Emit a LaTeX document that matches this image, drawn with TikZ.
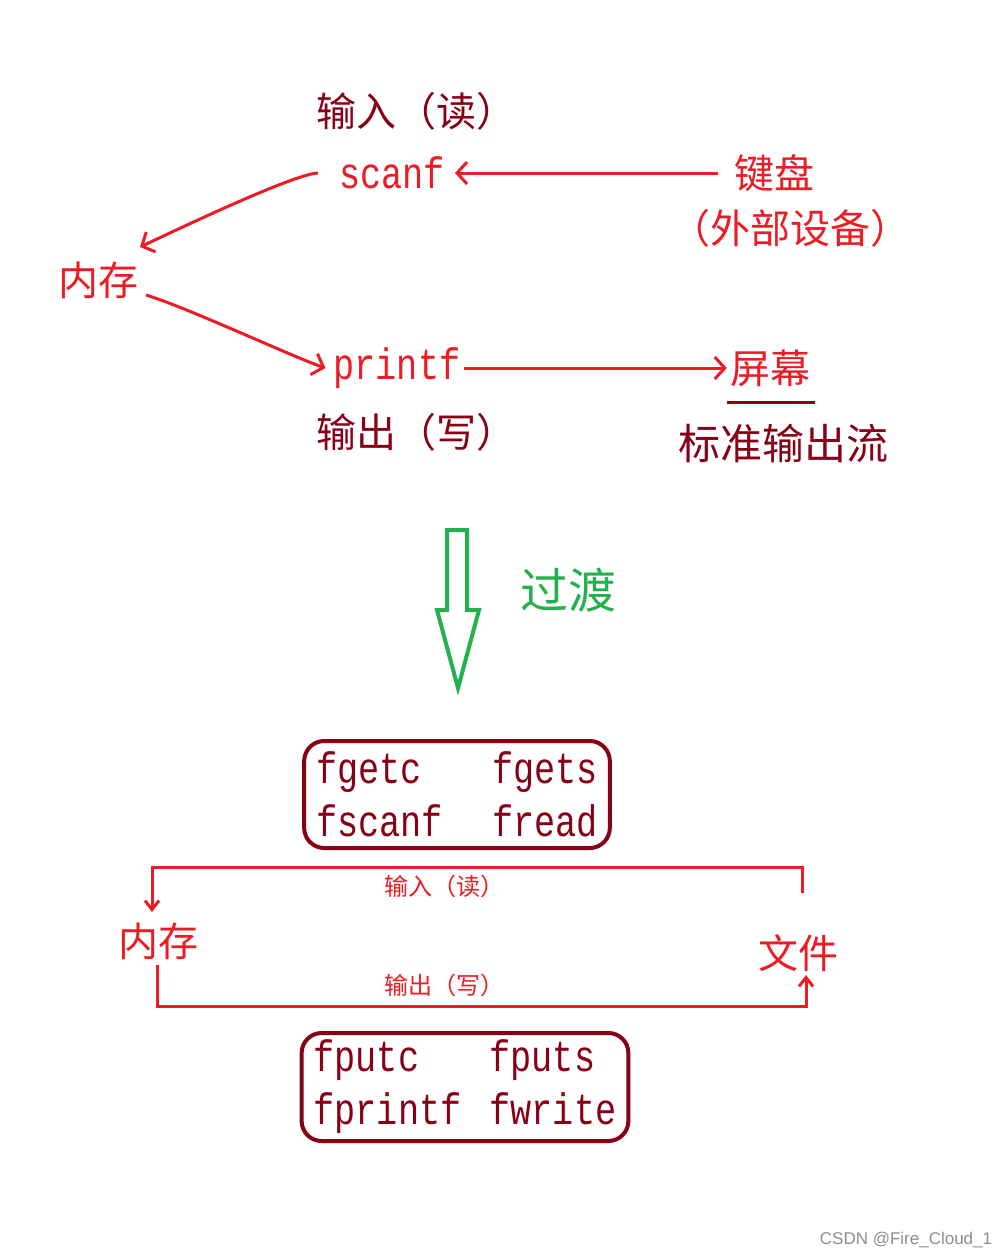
\documentclass[tikz,border=0pt]{standalone}
\usepackage{fontspec}
\usepackage{xcolor}
\usetikzlibrary{arrows.meta}
\newfontfamily\cjk{Noto Sans CJK SC}
\newfontfamily\codefont[FakeStretch=0.8]{Liberation Mono}
\setsansfont{Liberation Sans}
\definecolor{pred}{HTML}{ED1C24}
\definecolor{pdark}{HTML}{880015}
\definecolor{pgreen}{HTML}{22B14C}

\begin{document}
\begin{tikzpicture}[x=1pt, y=-1pt,
    cjk/.style={font=\cjk\fontsize{40}{44}\selectfont, inner sep=0pt},
    lbl/.style={font=\cjk\fontsize{24}{26}\selectfont, inner sep=0pt, text=pred},
    code/.style={font=\codefont\fontsize{44}{53}\selectfont, inner sep=0pt},
    fnbox/.style={
        code, draw=pdark, line width=4pt, rounded corners=20pt,
        inner xsep=12pt, align=left, text=pdark
    },
    arrow/.style={pred, line width=3pt, -{Straight Barb[length=10pt,width=22pt]}},
    looparrow/.style={pred, line width=3pt, -{Straight Barb[length=9pt,width=14pt]}}
]
\useasboundingbox (0,0) rectangle (1004,1258);

% Top part
\node[cjk, text=pdark] (in1) at (416,111) {输入（读）};
\node[code, text=pred] (scanf) at (392,173) {scanf};
\node[cjk, text=pred] (kbd) at (774,173) {键盘};
\node[cjk, text=pred] (dev) at (790,228) {（外部设备）};
\node[cjk, text=pred] (mem1) at (98,280) {内存};
\node[code, text=pred] (printf) at (397,368) {printf};
\node[cjk, text=pred] (scr) at (770,368) {屏幕};
\node[cjk, text=pdark] (out1) at (416,432) {输出（写）};
\node[cjk, text=pdark, font=\cjk\fontsize{42}{46}\selectfont] (std) at (783,443) {标准输出流};
\draw[pdark, line width=3pt] ([shift={(-43,34)}]scr.center) -- ([shift={(45,34)}]scr.center);

\draw[arrow] ([xshift=-16pt]kbd.west) -- ([xshift=10pt]scanf.east);
\draw[arrow] ([xshift=-21pt]scanf.west) .. controls +(-25,1) and +(30,-14) .. ([shift={(42,-33)}]mem1.center);
\draw[arrow] ([shift={(48,15)}]mem1.center) .. controls +(40,12) and +(-30,-10) .. ([xshift=-8pt]printf.west);
\draw[arrow] ([xshift=3pt]printf.east) -- ([xshift=-3pt]scr.west);

% Transition
\draw[pgreen, line width=4pt] (447,530) -- (467,530) -- (467,610) -- (479,610)
    -- (458,688) -- (437,610) -- (447,610) -- cycle;
\node[cjk, text=pgreen, font=\cjk\fontsize{48}{52}\selectfont] (trans) at (568,590) {过渡};

% File part
\node[fnbox, minimum width=304pt, minimum height=107pt] (rbox) at (457,794.5)
    {\makebox[176pt][l]{fgetc}fgets\\\makebox[176pt][l]{fscanf}fread};
\node[lbl] (rd) at (444,886) {输入（读）};
\node[cjk, text=pred] (mem2) at (158,941) {内存};
\node[cjk, text=pred] (file) at (798,953) {文件};
\node[lbl] (wr) at (444,985) {输出（写）};
\node[fnbox, minimum width=326pt, minimum height=108pt] (wbox) at (465,1087)
    {\makebox[176pt][l]{fputc}fputs\\\makebox[176pt][l]{fprintf}fwrite};

\draw[looparrow] ([shift={(4,-60)}]file.center) -- ++(0,-26) -| ([shift={(-6,-29)}]mem2.center);
\draw[looparrow] ([shift={(-1,24)}]mem2.center) -- ++(0,41) -| ([shift={(8,22)}]file.center);

\node[font=\sffamily\fontsize{17}{20}\selectfont, text=black!45, inner sep=0pt] (mark) at (906,1240) {CSDN @Fire\_Cloud\_1};

\end{tikzpicture}
\end{document}
